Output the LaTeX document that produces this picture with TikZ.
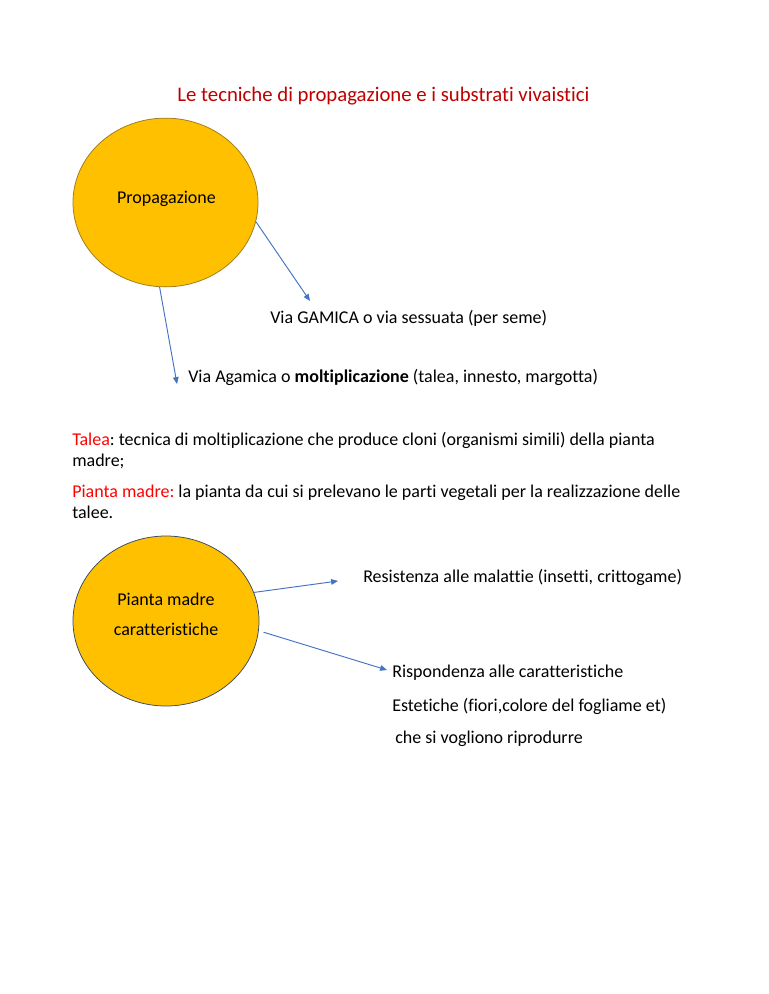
\documentclass[tikz,border=0pt]{standalone}
\usepackage{fontspec}
\setmainfont{Carlito}[Ligatures=NoCommon]
\usepackage{tikz}
\usetikzlibrary{arrows.meta, shapes.geometric, positioning}
\definecolor{blob}{HTML}{FFC000}
\definecolor{blobedge}{HTML}{9C7A1E}
\definecolor{pmedge}{HTML}{3B4A63}
\definecolor{linkblue}{HTML}{4472C4}
\definecolor{titlered}{HTML}{C00000}
\definecolor{termred}{HTML}{FF0000}
\frenchspacing

\begin{document}
\begin{tikzpicture}[x=0.8pt, y=-0.8pt, >={Triangle[length=5.5pt,width=4.5pt]},
  txt/.style={anchor=base west, inner sep=0pt, font=\fontsize{14.4}{17}\selectfont},
  blobnode/.style={ellipse, fill=blob, line width=0.6pt, inner sep=0pt},
  arrowline/.style={->, draw=linkblue, line width=0.75pt}]
  % page
  \fill[white] (0,0) rectangle (768,994);
  \useasboundingbox (0,0) rectangle (768,994);
  % title
  \node[anchor=base, inner sep=0pt, text=titlered, font=\fontsize{16.6}{20}\selectfont]
    (title) at (383.5,102) {Le tecniche di propagazione e i substrati vivaistici};
  % propagazione
  \node[blobnode, draw=blobedge, minimum width=148pt, minimum height=135pt]
    (prop) at (165.5,202.5) {};
  \node[txt, anchor=base] (proptxt) at (166.5,203) {Propagazione};
  \node[txt] (gamica) at (270,323) {Via GAMICA o via sessuata (per seme)};
  \node[txt] (agamica) at (188,382) {Via Agamica o \textbf{moltiplicazione} (talea, innesto, margotta)};
  \coordinate (gamtip) at (310,301);
  \coordinate (agamtip) at (177,384);
  \draw[arrowline] (prop.-12) -- (gamtip);
  \draw[arrowline] (prop.-94) -- (agamtip);
  % definizioni
  \node[txt] (talea) at (72,445) {\textcolor{termred}{Talea}: tecnica di moltiplicazione che produce cloni (organismi simili) della pianta};
  \node[txt] (talea2) at (72,466) {madre;};
  \node[txt] (madre) at (72,497) {\textcolor{termred}{Pianta madre:} la pianta da cui si prelevano le parti vegetali per la realizzazione delle};
  \node[txt] (madre2) at (72,518) {talee.};
  % pianta madre
  \node[blobnode, draw=pmedge, minimum width=148.8pt, minimum height=136pt]
    (pm) at (166,621) {};
  \node[txt, anchor=base] (pmtxt) at (166,605) {Pianta madre};
  \node[txt, anchor=base] (pmtxt2) at (166,635) {caratteristiche};
  \node[txt] (resist) at (363,582) {Resistenza alle malattie (insetti, crittogame)};
  \node[txt] (risp) at (392,677) {Rispondenza alle caratteristiche};
  \node[txt] (estet) at (392,711) {Estetiche (fiori,colore del fogliame et)};
  \node[txt] (ripr) at (395,743) {che si vogliono riprodurre};
  \coordinate (resisttip) at (338,581);
  \coordinate (risptip) at (387,670);
  \draw[arrowline] (pm.18) -- (resisttip);
  \draw[arrowline, shorten <=4pt] (pm.-6) -- (risptip);
\end{tikzpicture}
\end{document}
